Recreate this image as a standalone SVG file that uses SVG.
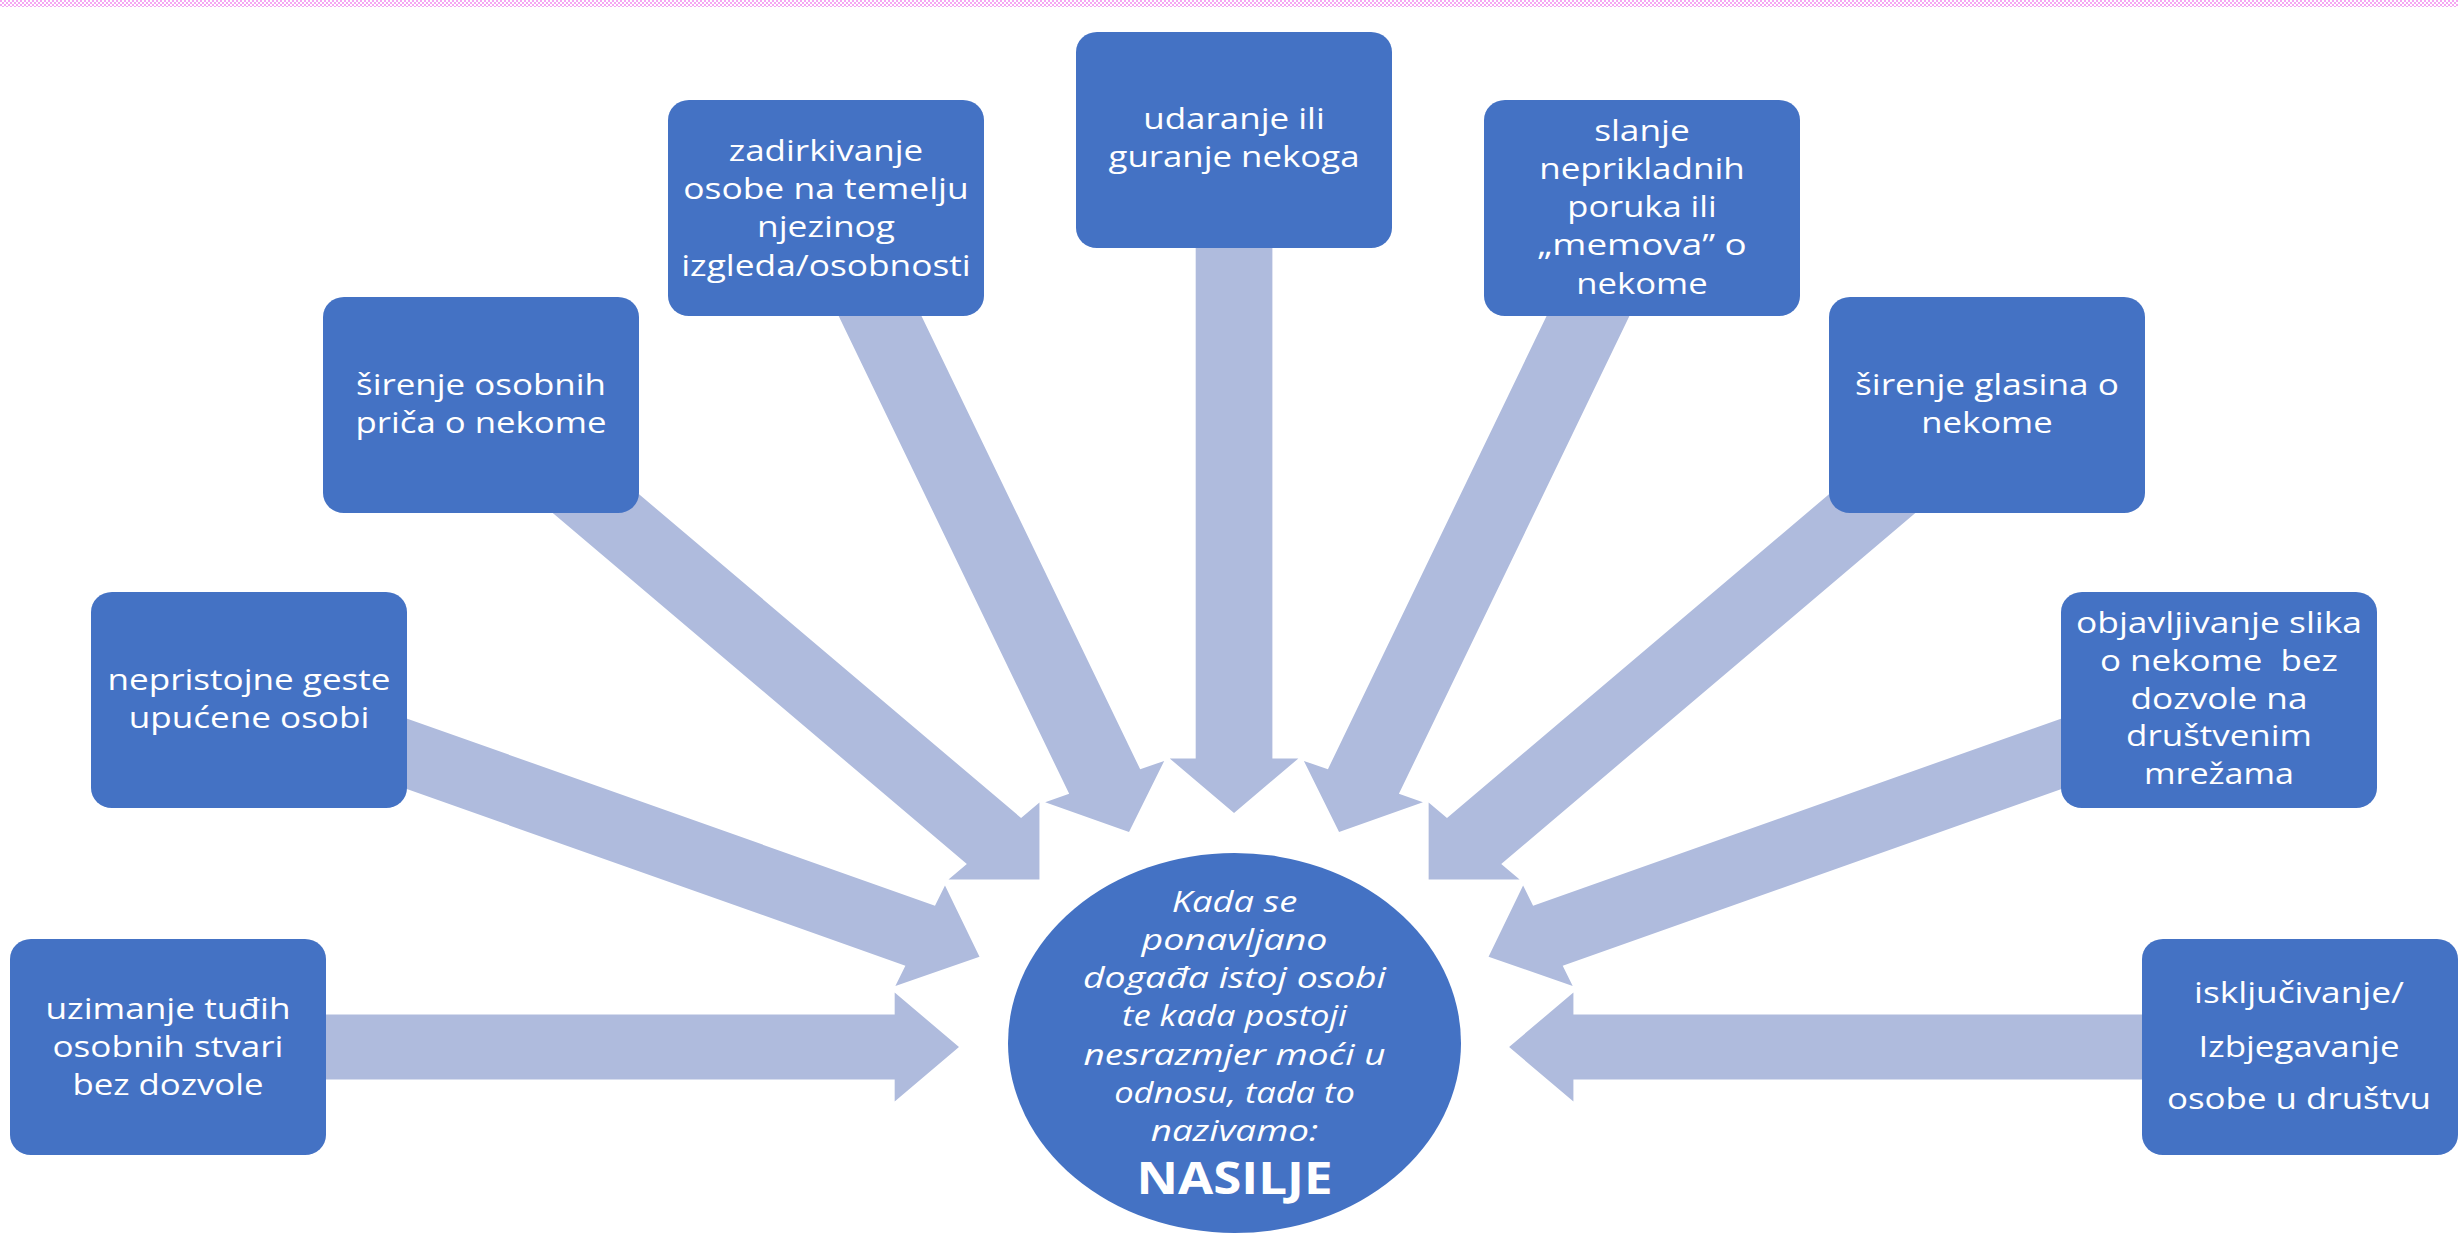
<svg xmlns="http://www.w3.org/2000/svg" width="2458" height="1237" viewBox="0 0 2458 1237">
<defs>
<pattern id="chk" width="4" height="4" patternUnits="userSpaceOnUse">
<rect width="4" height="4" fill="#ffffff"/>
<rect width="2" height="2" fill="#F5A6F3"/>
<rect x="2" y="2" width="2" height="2" fill="#F5A6F3"/>
</pattern>
</defs>
<style>
.box{fill:#4472C4;}
.arr{fill:#AFBBDD;}
.t{font-family:"Open Sans","Noto Sans","DejaVu Sans",sans-serif;font-size:28.5px;fill:#ffffff;text-anchor:middle;}
.e{font-family:"Open Sans","Noto Sans","DejaVu Sans",sans-serif;font-size:30px;font-style:italic;fill:#ffffff;text-anchor:middle;}
.big{font-family:"Open Sans","Noto Sans","DejaVu Sans",sans-serif;font-size:44px;font-weight:bold;fill:#ffffff;text-anchor:middle;}
</style>
<rect x="0" y="0" width="2458" height="1237" fill="#ffffff"/>
<rect x="0" y="0" width="2458" height="7" fill="url(#chk)"/>

<g id="connectors" transform="matrix(1.18 0 0 1 0 0)">
<polygon class="arr" points="1013.3,230 1013.3,758.5 991.3,758.5 1045.8,813 1100.3,758.5 1078.3,758.5 1078.3,230"/>
<polygon class="arr" points="765.28,277.70 966.25,769.26 986.61,760.93 956.8,832 885.73,802.19 906.09,793.86 705.12,302.30"/>
<polygon class="arr" points="1326.32,277.70 1125.35,769.26 1104.99,760.93 1134.8,832 1205.87,802.19 1185.51,793.86 1386.48,302.30"/>
<polygon class="arr" points="474.38,427.02 865.33,817.97 880.89,802.41 880.89,879.49 803.81,879.49 819.37,863.93 428.42,472.98"/>
<polygon class="arr" points="1617.22,427.02 1226.27,817.97 1210.71,802.41 1210.71,879.49 1287.79,879.49 1272.23,863.93 1663.18,472.98"/>
<polygon class="arr" points="302.54,700.91 792.36,905.69 800.84,885.40 830.1,956.7 758.80,985.96 767.28,965.67 277.46,760.89"/>
<polygon class="arr" points="1789.06,700.91 1299.24,905.69 1290.76,885.40 1261.5,956.7 1332.8,985.96 1324.32,965.67 1814.14,760.89"/>
<polygon class="arr" points="250,1014.5 758.2,1014.5 758.2,992.5 812.7,1047 758.2,1101.5 758.2,1079.5 250,1079.5"/>
<polygon class="arr" points="1841.6,1014.5 1333.4,1014.5 1333.4,992.5 1278.9,1047 1333.4,1101.5 1333.4,1079.5 1841.6,1079.5"/>
</g>

<g id="node-udaranje">
<rect class="box" x="1076" y="32" width="316" height="216" rx="21" ry="20"/>
<text class="t" x="1234" y="129.3" textLength="181.5" lengthAdjust="spacingAndGlyphs">udaranje ili</text>
<text class="t" x="1234" y="166.7" textLength="251" lengthAdjust="spacingAndGlyphs">guranje nekoga</text>
</g>

<g id="node-zadirkivanje">
<rect class="box" x="668" y="100" width="316" height="216" rx="21" ry="20"/>
<text class="t" x="826" y="160.7" textLength="194.5" lengthAdjust="spacingAndGlyphs">zadirkivanje</text>
<text class="t" x="826" y="199" textLength="285.5" lengthAdjust="spacingAndGlyphs">osobe na temelju</text>
<text class="t" x="826" y="237.3" textLength="138" lengthAdjust="spacingAndGlyphs">njezinog</text>
<text class="t" x="826" y="275.5" textLength="289.6" lengthAdjust="spacingAndGlyphs">izgleda/osobnosti</text>
</g>

<g id="node-slanje">
<rect class="box" x="1484" y="100" width="316" height="216" rx="21" ry="20"/>
<text class="t" x="1642" y="140.7" textLength="95.7" lengthAdjust="spacingAndGlyphs">slanje</text>
<text class="t" x="1642" y="178.9" textLength="205.6" lengthAdjust="spacingAndGlyphs">neprikladnih</text>
<text class="t" x="1642" y="217.1" textLength="149.4" lengthAdjust="spacingAndGlyphs">poruka ili</text>
<text class="t" x="1642" y="255.3" textLength="209.5" lengthAdjust="spacingAndGlyphs">„memova” o</text>
<text class="t" x="1642" y="293.5" textLength="131.3" lengthAdjust="spacingAndGlyphs">nekome</text>
</g>

<g id="node-sirenje-prica">
<rect class="box" x="323" y="297" width="316" height="216" rx="21" ry="20"/>
<text class="t" x="481" y="395" textLength="250" lengthAdjust="spacingAndGlyphs">širenje osobnih</text>
<text class="t" x="481" y="433.3" textLength="251" lengthAdjust="spacingAndGlyphs">priča o nekome</text>
</g>

<g id="node-sirenje-glasina">
<rect class="box" x="1829" y="297" width="316" height="216" rx="21" ry="20"/>
<text class="t" x="1987" y="395" textLength="264" lengthAdjust="spacingAndGlyphs">širenje glasina o</text>
<text class="t" x="1987" y="433.3" textLength="131.3" lengthAdjust="spacingAndGlyphs">nekome</text>
</g>

<g id="node-nepristojne">
<rect class="box" x="91" y="592" width="316" height="216" rx="21" ry="20"/>
<text class="t" x="249" y="690" textLength="283" lengthAdjust="spacingAndGlyphs">nepristojne geste</text>
<text class="t" x="249" y="727.5" textLength="240.6" lengthAdjust="spacingAndGlyphs">upućene osobi</text>
</g>

<g id="node-objavljivanje">
<rect class="box" x="2061" y="592" width="316" height="216" rx="21" ry="20"/>
<text class="t" x="2219" y="632.7" textLength="286" lengthAdjust="spacingAndGlyphs">objavljivanje slika</text>
<text class="t" x="2219" y="670.7" textLength="238" lengthAdjust="spacingAndGlyphs" xml:space="preserve">o nekome  bez</text>
<text class="t" x="2219" y="708.5" textLength="177" lengthAdjust="spacingAndGlyphs">dozvole na</text>
<text class="t" x="2219" y="746.3" textLength="186" lengthAdjust="spacingAndGlyphs">društvenim</text>
<text class="t" x="2219" y="784" textLength="150" lengthAdjust="spacingAndGlyphs">mrežama</text>
</g>

<g id="node-uzimanje">
<rect class="box" x="10" y="939" width="316" height="216" rx="21" ry="20"/>
<text class="t" x="168" y="1019" textLength="245" lengthAdjust="spacingAndGlyphs">uzimanje tuđih</text>
<text class="t" x="168" y="1057" textLength="231" lengthAdjust="spacingAndGlyphs">osobnih stvari</text>
<text class="t" x="168" y="1095" textLength="191" lengthAdjust="spacingAndGlyphs">bez dozvole</text>
</g>

<g id="node-iskljucivanje">
<rect class="box" x="2142" y="939" width="316" height="216" rx="21" ry="20"/>
<text class="t" x="2299" y="1003.3" textLength="210" lengthAdjust="spacingAndGlyphs">isključivanje/</text>
<text class="t" x="2299" y="1056.7" textLength="201" lengthAdjust="spacingAndGlyphs">Izbjegavanje</text>
<text class="t" x="2299" y="1109.3" textLength="264" lengthAdjust="spacingAndGlyphs">osobe u društvu</text>
</g>

<g id="node-nasilje">
<ellipse class="box" cx="1234.5" cy="1043" rx="226.5" ry="190"/>
<text class="e" x="1234.5" y="911.5" textLength="125.5" lengthAdjust="spacingAndGlyphs">Kada se</text>
<text class="e" x="1234.5" y="949.8" textLength="186" lengthAdjust="spacingAndGlyphs">ponavljano</text>
<text class="e" x="1234.5" y="988.1" textLength="303" lengthAdjust="spacingAndGlyphs">događa istoj osobi</text>
<text class="e" x="1234.5" y="1026.4" textLength="225" lengthAdjust="spacingAndGlyphs">te kada postoji</text>
<text class="e" x="1234.5" y="1064.7" textLength="302" lengthAdjust="spacingAndGlyphs">nesrazmjer moći u</text>
<text class="e" x="1234.5" y="1103" textLength="240.6" lengthAdjust="spacingAndGlyphs">odnosu, tada to</text>
<text class="e" x="1234.5" y="1141.3" textLength="167.4" lengthAdjust="spacingAndGlyphs">nazivamo:</text>
<text class="big" x="1234.5" y="1194" textLength="196" lengthAdjust="spacingAndGlyphs">NASILJE</text>
</g>
</svg>
